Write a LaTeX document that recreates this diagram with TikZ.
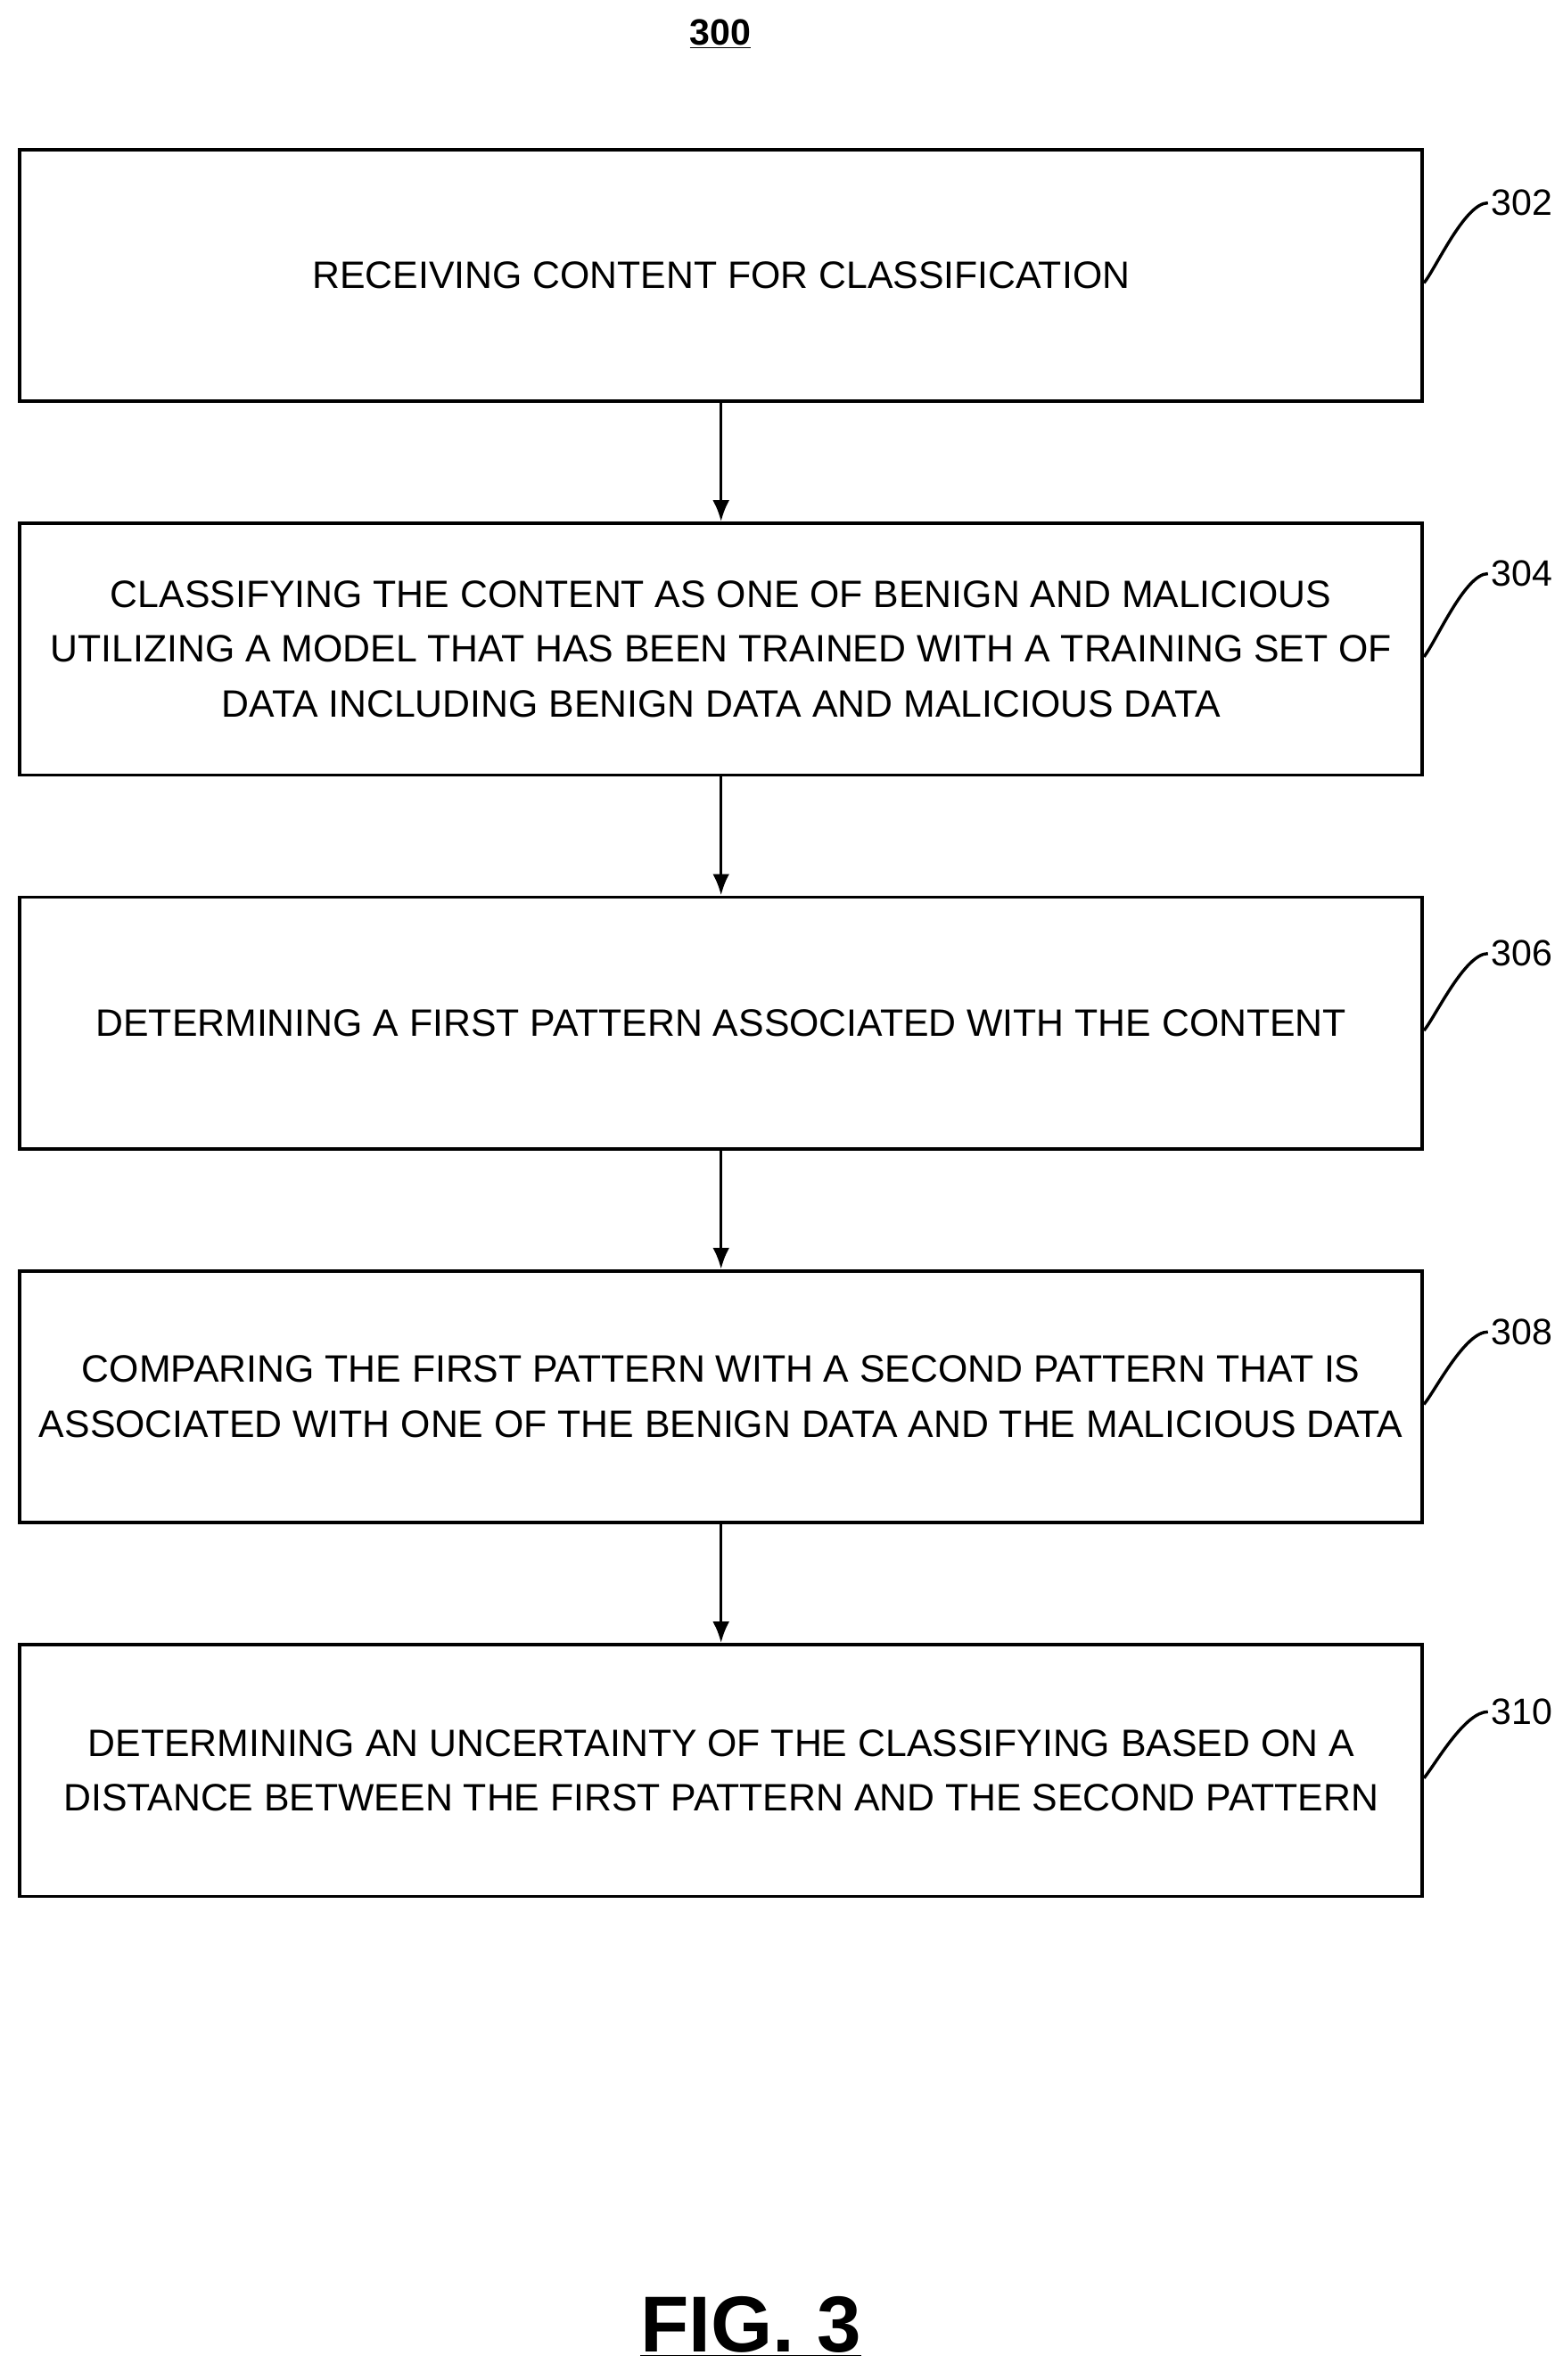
\documentclass[tikz,border=0pt]{standalone}
\usetikzlibrary{arrows.meta}
\usepackage{fontspec}
\setmainfont{Liberation Sans}
\begin{document}
\begin{tikzpicture}[x=1pt,y=-1pt,
  box/.style={draw,line width=2.2pt,minimum width=919pt,minimum height=165pt,align=center,font=\fontsize{25}{36}\selectfont,inner sep=0pt},
  arr/.style={line width=2pt,-{Latex[length=14pt,width=11pt]}},
  lab/.style={font=\fontsize{24}{28}\selectfont,anchor=west,inner sep=0pt},
  lead/.style={line width=2pt}]
\useasboundingbox (0,0) rectangle (1024,1560);
\node[font=\bfseries\fontsize{24}{28}\selectfont] (t) at (472,22) {\underline{300}};
\node[box] (b1) at (472.5,180.5) {RECEIVING CONTENT FOR CLASSIFICATION};
\node[box] (b2) at (472.5,425.5) {CLASSIFYING THE CONTENT AS ONE OF BENIGN AND MALICIOUS\\UTILIZING A MODEL THAT HAS BEEN TRAINED WITH A TRAINING SET OF\\DATA INCLUDING BENIGN DATA AND MALICIOUS DATA};
\node[box] (b3) at (472.5,670.5) {DETERMINING A FIRST PATTERN ASSOCIATED WITH THE CONTENT};
\node[box] (b4) at (472.5,915.5) {COMPARING THE FIRST PATTERN WITH A SECOND PATTERN THAT IS\\ASSOCIATED WITH ONE OF THE BENIGN DATA AND THE MALICIOUS DATA};
\node[box] (b5) at (472.5,1160.5) {DETERMINING AN UNCERTAINTY OF THE CLASSIFYING BASED ON A\\DISTANCE BETWEEN THE FIRST PATTERN AND THE SECOND PATTERN};
\foreach \a/\b in {b1/b2,b2/b3,b3/b4,b4/b5} \draw[arr] (\a.south) -- (\b.north);
\foreach \n/\l/\y in {b1/302/133,b2/304/376,b3/306/625,b4/308/873,b5/310/1122}{
  \node[lab] (l\l) at (977,\y) {\l};
  \draw[lead] (\n.east) ++(0,5) .. controls +(8,-10) and +(-15,0) .. ([xshift=-2pt]l\l.west);
}
\node[font=\bfseries\fontsize{52}{60}\selectfont] (fig) at (492,1525) {\underline{FIG. 3}};
\end{tikzpicture}
\end{document}
